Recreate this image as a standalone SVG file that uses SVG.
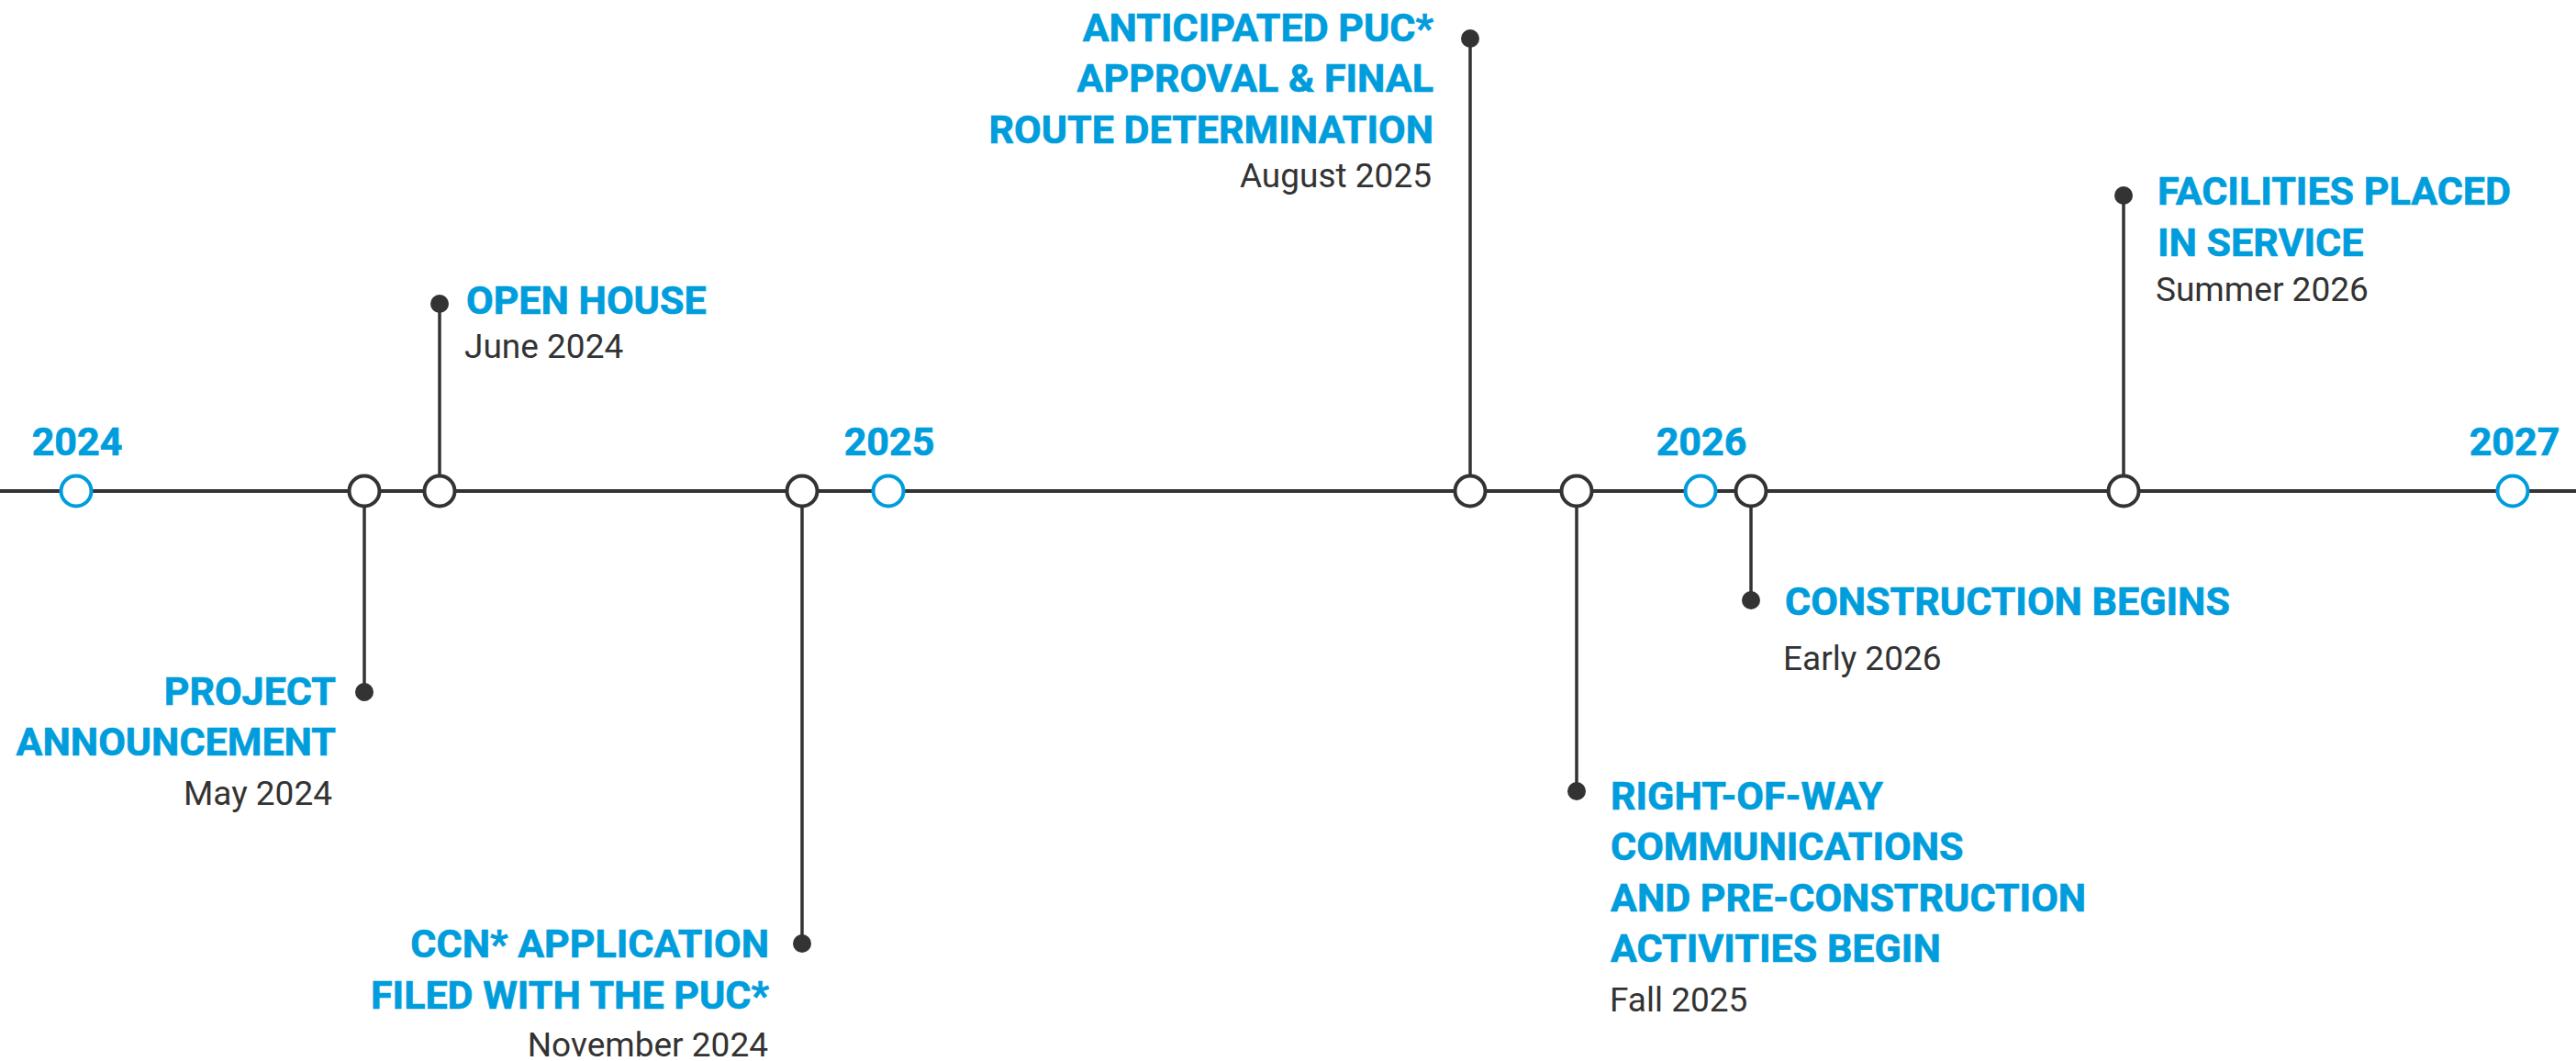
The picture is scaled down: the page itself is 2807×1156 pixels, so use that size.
<svg xmlns="http://www.w3.org/2000/svg" width="2807" height="1156" viewBox="0 0 2807 1156">
  <style>
    .axis { stroke: #333333; stroke-width: 4; fill: none; }
    .stem { stroke: #333333; stroke-width: 3.5; fill: none; }
    .ring { fill: #ffffff; stroke: #333333; stroke-width: 4; }
    .year-ring { fill: #ffffff; stroke: #009ddc; stroke-width: 4; }
    .dot { fill: #333333; }
    .year { font-family: Roboto, "Liberation Sans", sans-serif; font-weight: 700; font-size: 43px; fill: #009ddc; stroke: #009ddc; stroke-width: 0.7; text-anchor: middle; }
    .title { font-family: Roboto, "Liberation Sans", sans-serif; font-weight: 700; font-size: 43px; fill: #009ddc; stroke: #009ddc; stroke-width: 0.7; }
    .date { font-family: Roboto, "Liberation Sans", sans-serif; font-weight: 400; font-size: 37px; fill: #333333; }
    .end { text-anchor: end; }
  </style>

  <!-- stems linking the axis to each milestone label -->
  <g id="connectors">
    <line class="axis" x1="0" y1="535" x2="2807" y2="535"/>
    <line class="stem" x1="397" y1="535" x2="397" y2="754"/>
    <line class="stem" x1="479" y1="535" x2="479" y2="331"/>
    <line class="stem" x1="874" y1="535" x2="874" y2="1028"/>
    <line class="stem" x1="1602" y1="535" x2="1602" y2="42"/>
    <line class="stem" x1="1718" y1="535" x2="1718" y2="862"/>
    <line class="stem" x1="1908" y1="535" x2="1908" y2="654"/>
    <line class="stem" x1="2314" y1="535" x2="2314" y2="213"/>
  </g>

  <!-- year markers -->
  <g id="year-2024">
    <circle class="year-ring" cx="83" cy="535" r="16.5"/>
    <text class="year" x="84" y="496">2024</text>
  </g>
  <g id="year-2025">
    <circle class="year-ring" cx="968" cy="535" r="16.5"/>
    <text class="year" x="969" y="496">2025</text>
  </g>
  <g id="year-2026">
    <circle class="year-ring" cx="1853" cy="535" r="16.5"/>
    <text class="year" x="1854" y="496">2026</text>
  </g>
  <g id="year-2027">
    <circle class="year-ring" cx="2738" cy="535" r="16.5"/>
    <text class="year" x="2740" y="496">2027</text>
  </g>

  <!-- milestones -->
  <g id="project-announcement">
    <circle class="ring" cx="397" cy="535" r="16.5"/>
    <circle class="dot" cx="397" cy="754" r="10"/>
    <text class="title end" x="366" y="768">PROJECT</text>
    <text class="title end" x="366" y="823">ANNOUNCEMENT</text>
    <text class="date end" x="362" y="877">May 2024</text>
  </g>

  <g id="open-house">
    <circle class="ring" cx="479" cy="535" r="16.5"/>
    <circle class="dot" cx="479" cy="331" r="10"/>
    <text class="title" x="508" y="342">OPEN HOUSE</text>
    <text class="date" x="506" y="390">June 2024</text>
  </g>

  <g id="ccn-application">
    <circle class="ring" cx="874" cy="535" r="16.5"/>
    <circle class="dot" cx="874" cy="1028" r="10"/>
    <text class="title end" x="838" y="1043">CCN* APPLICATION</text>
    <text class="title end" x="838" y="1099">FILED WITH THE PUC*</text>
    <text class="date end" x="837" y="1151">November 2024</text>
  </g>

  <g id="puc-approval">
    <circle class="ring" cx="1602" cy="535" r="16.5"/>
    <circle class="dot" cx="1602" cy="42" r="10"/>
    <text class="title end" x="1562" y="45">ANTICIPATED PUC*</text>
    <text class="title end" x="1562" y="100">APPROVAL &amp; FINAL</text>
    <text class="title end" x="1562" y="156">ROUTE DETERMINATION</text>
    <text class="date end" x="1560" y="204">August 2025</text>
  </g>

  <g id="right-of-way">
    <circle class="ring" cx="1718" cy="535" r="16.5"/>
    <circle class="dot" cx="1718" cy="862" r="10"/>
    <text class="title" x="1755" y="882">RIGHT-OF-WAY</text>
    <text class="title" x="1755" y="937">COMMUNICATIONS</text>
    <text class="title" x="1755" y="993">AND PRE-CONSTRUCTION</text>
    <text class="title" x="1755" y="1048">ACTIVITIES BEGIN</text>
    <text class="date" x="1754" y="1102">Fall 2025</text>
  </g>

  <g id="construction-begins">
    <circle class="ring" cx="1908" cy="535" r="16.5"/>
    <circle class="dot" cx="1908" cy="654" r="10"/>
    <text class="title" x="1945" y="670">CONSTRUCTION BEGINS</text>
    <text class="date" x="1943" y="730">Early 2026</text>
  </g>

  <g id="facilities-in-service">
    <circle class="ring" cx="2314" cy="535" r="16.5"/>
    <circle class="dot" cx="2314" cy="213" r="10"/>
    <text class="title" x="2351" y="223">FACILITIES PLACED</text>
    <text class="title" x="2351" y="279">IN SERVICE</text>
    <text class="date" x="2349" y="328">Summer 2026</text>
  </g>
</svg>
